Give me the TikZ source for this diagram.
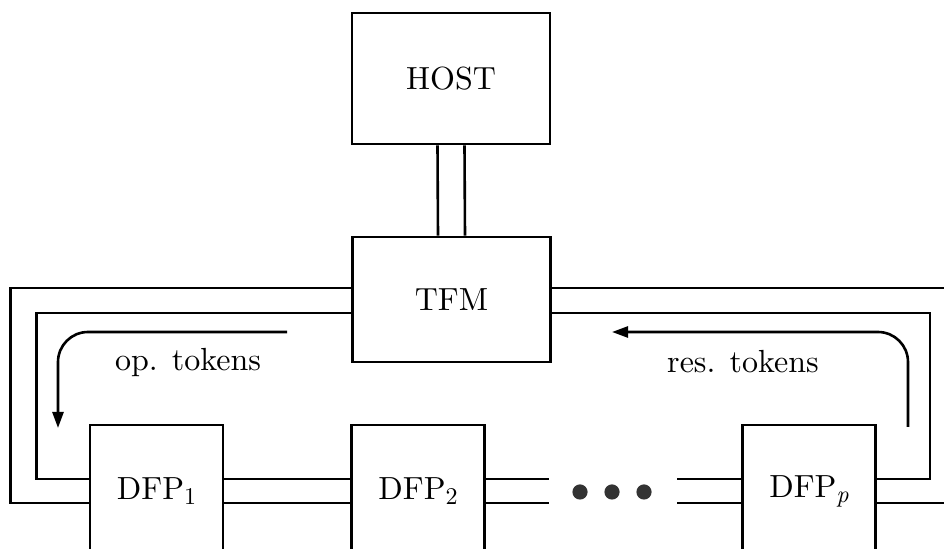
\documentclass[tikz,border=0pt]{standalone}
\usepackage{fontspec}
\setmainfont{lmroman10-regular.otf}[ItalicFont=lmroman10-italic.otf]
\usetikzlibrary{arrows.meta}
\newcommand{\dfpsub}[1]{\raisebox{-0.35ex}{\fontsize{12pt}{12pt}\selectfont #1}}
\begin{document}
\begin{tikzpicture}[
        x=0.5pt, y=-0.5pt,
        line width=1.3pt,
        every node/.style={font=\fontsize{16pt}{19pt}\selectfont, inner sep=0pt},
        unit/.style={draw, line width=1.3pt, text centered},
        big/.style={unit, minimum width=99pt},
        dfp/.style={unit, minimum width=66.5pt, minimum height=66pt},
        dot/.style={circle, fill=black!80, minimum size=7.6pt},
        tok/.style={rounded corners=15pt, -{Triangle[length=8pt, width=5.5pt]}},
    ]
    \useasboundingbox (0,0) rectangle (944,549);
    \node[big, minimum height=65.5pt](host) at (451,78.5){HOST};
    \node[big, minimum height=62.5pt](tfm) at (451.5,299.5){TFM};
    \node[dfp](dfp1) at (156.5,491){DFP\dfpsub{1}};
    \node[dfp](dfp2) at (418,491){DFP\dfpsub{2}};
    \node[dfp](dfpp) at (809,491){DFP\dfpsub{\itshape p}};
    \foreach \i/\x in {1/580, 2/612, 3/644}
        \node[dot](dot\i) at (\x,492){};
    \coordinate (outtop) at (0,288);
    \coordinate (intop) at (0,313);
    \coordinate (inbot) at (0,479);
    \coordinate (outbot) at (0,503);
    \draw ([xshift=-6.75pt]host.south) -- ([xshift=-6.75pt]tfm.north);
    \draw ([xshift=6.75pt]host.south) -- ([xshift=6.75pt]tfm.north);
    \draw (tfm.west |- outtop) -- ++(-341,0) |- (dfp1.west |- outbot);
    \draw (tfm.west |- intop) -- ++(-315,0) |- (dfp1.west |- inbot);
    \draw (dfp1.east |- inbot) -- (dfp2.west |- inbot);
    \draw (dfp1.east |- outbot) -- (dfp2.west |- outbot);
    \draw (dfp2.east |- inbot) -- ++(63,0);
    \draw (dfp2.east |- outbot) -- ++(63,0);
    \draw (dfpp.west |- inbot) -- ++(-64,0);
    \draw (dfpp.west |- outbot) -- ++(-64,0);
    \draw (dfpp.east |- inbot) -- ++(53,0) |- (tfm.east |- intop);
    \draw (dfpp.east |- outbot) -- ++(90,0);
    \draw (tfm.east |- outtop) -- ++(410,0);
    \coordinate (opstart) at (287,332);
    \coordinate (opend) at (58,428);
    \coordinate (resstart) at (908,427);
    \coordinate (resend) at (612,332);
    \draw[tok] (opstart) -| (opend);
    \draw[tok] (resstart) |- (resend);
    \node[anchor=base](oplbl) at (188,371){op. tokens};
    \node[anchor=base](reslbl) at (743,373){res. tokens};
\end{tikzpicture}
\end{document}
